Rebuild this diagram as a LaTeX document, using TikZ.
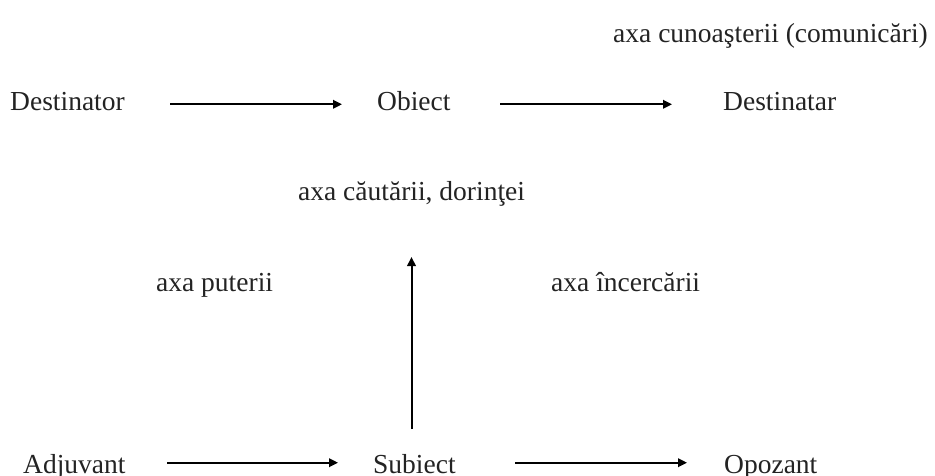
\documentclass[tikz,border=0pt]{standalone}
\usepackage{fontspec}
\setmainfont{Liberation Serif}
\usetikzlibrary{arrows.meta}
\definecolor{txt}{RGB}{35,35,35}
\tikzset{
  lbl/.style={anchor=base west, inner sep=0pt, text=txt, font=\fontsize{27.5}{33}\selectfont},
  arr/.style={draw=black, line width=2pt, -{Triangle[length=9pt,width=8.5pt]}}
}
\begin{document}
\begin{tikzpicture}[x=1pt,y=1pt]
\useasboundingbox (0,0) rectangle (935,475);
% top row
\node[lbl] (dest) at (10,364.5) {Destinator};
\node[lbl] (obj) at (377,364.5) {Obiect};
\node[lbl] (dnt) at (723,364.5) {Destinatar};
\node[lbl] (cun) at (613,432) {axa cunoaşterii (comunicări)};
% middle labels
\node[lbl] (cau) at (298,275) {axa căutării, dorinţei};
\node[lbl] (put) at (156,184) {axa puterii};
\node[lbl] (inc) at (551,184) {axa încercării};
% bottom row
\node[lbl] (adj) at (23,1.7) {Adjuvant};
\node[lbl] (subj) at (373,1.7) {Subiect};
\node[lbl] (opz) at (724,1.7) {Opozant};
% arrow ends
\coordinate (a1s) at (170,370.7);
\coordinate (a1e) at (342,370.7);
\coordinate (a2s) at (500,370.7);
\coordinate (a2e) at (672,370.7);
\coordinate (b1s) at (167,12.3);
\coordinate (b1e) at (338,12.3);
\coordinate (b2s) at (515,12.3);
\coordinate (b2e) at (687,12.3);
\coordinate (vs) at (411.5,46);
\coordinate (ve) at (411.5,218);
\draw[arr] (a1s) -- (a1e);
\draw[arr] (a2s) -- (a2e);
\draw[arr] (b1s) -- (b1e);
\draw[arr] (b2s) -- (b2e);
\draw[arr] (vs) -- (ve);
\end{tikzpicture}
\end{document}
